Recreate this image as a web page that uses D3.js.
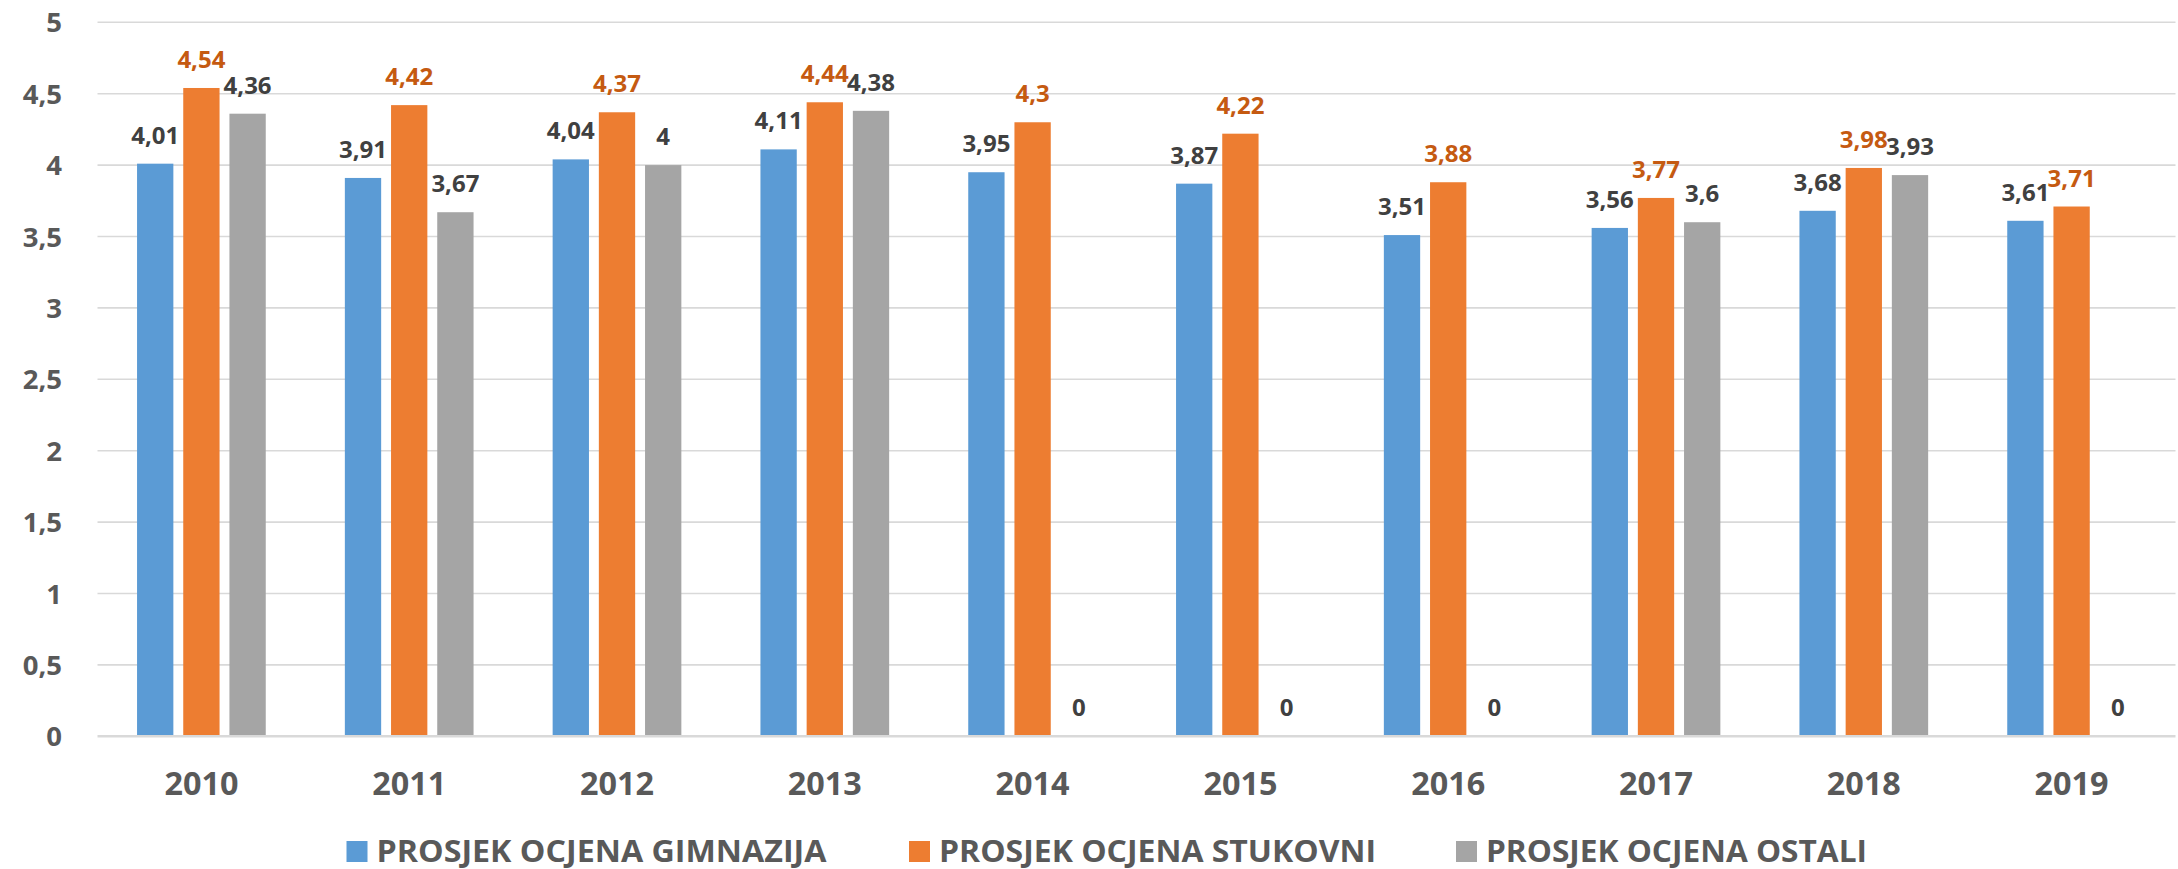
<!DOCTYPE html>
<html>
<head>
<meta charset="utf-8">
<script src="https://cdn.jsdelivr.net/npm/d3@7"></script>
<style>
  html, body { margin: 0; padding: 0; background: #fff; }
  svg { display: block; }
  text { font-family: "Open Sans", Lato, sans-serif; font-weight: 700; }
</style>
</head>
<body>
<svg id="chart" width="2178" height="869"></svg>
<script>
const categories = ["2010","2011","2012","2013","2014","2015","2016","2017","2018","2019"];
const seriesNames = ["PROSJEK OCJENA GIMNAZIJA","PROSJEK OCJENA STUKOVNI","PROSJEK OCJENA OSTALI"];
const gimnazija = [4.01,3.91,4.04,4.11,3.95,3.87,3.51,3.56,3.68,3.61];
const strukovni = [4.54,4.42,4.37,4.44,4.30,4.22,3.88,3.77,3.98,3.71];
const ostali    = [4.36,3.67,4.00,4.38,0,0,0,3.60,3.93,0];
const yTicks = [0,0.5,1,1.5,2,2.5,3,3.5,4,4.5,5];
const colors = ["#5B9BD5","#ED7D31","#A5A5A5"];
const labelColors = ["#404040","#C55A11","#404040"];

const seriesValues = [gimnazija, strukovni, ostali];
const margin = {left: 97.5, right: 2175.5, top: 22.3, bottom: 736.3};

const svg = d3.select("#chart");
const fmt = v => String(+v.toFixed(2)).replace(".", ",");

const x0 = d3.scaleBand().domain(categories).range([margin.left, margin.right]).padding(0);
const x1 = d3.scaleBand().domain(d3.range(3)).range([0, x0.bandwidth()])
  .paddingInner(0.214).paddingOuter(0.856);
const y = d3.scaleLinear().domain([0,5]).range([margin.bottom, margin.top]);

// gridlines
svg.append("g").selectAll("line").data(yTicks.filter(t => t > 0)).join("line")
  .attr("x1", margin.left).attr("x2", margin.right)
  .attr("y1", d => y(d)).attr("y2", d => y(d))
  .attr("stroke", "#D9D9D9").attr("stroke-width", 1.6);

// y tick labels
svg.append("g").selectAll("text").data(yTicks).join("text")
  .attr("x", 62).attr("y", d => y(d) + 10)
  .attr("text-anchor", "end")
  .attr("font-size", 27.5).attr("fill", "#595959")
  .text(d => fmt(d));

// bars
const groups = svg.append("g").selectAll("g").data(categories).join("g")
  .attr("transform", c => `translate(${x0(c)},0)`);

groups.selectAll("rect").data((c, i) => seriesValues.map((s, k) => ({k, v: s[i]}))).join("rect")
  .attr("x", d => x1(d.k)).attr("width", x1.bandwidth())
  .attr("y", d => y(d.v)).attr("height", d => y(0) - y(d.v))
  .attr("fill", d => colors[d.k]);

groups.selectAll("text").data((c, i) => seriesValues.map((s, k) => ({k, v: s[i]}))).join("text")
  .attr("x", d => x1(d.k) + x1.bandwidth() / 2)
  .attr("y", d => y(d.v) - 20)
  .attr("text-anchor", "middle")
  .attr("font-size", 24)
  .attr("fill", d => labelColors[d.k])
  .text(d => fmt(d.v));

// baseline axis
svg.append("line")
  .attr("x1", margin.left).attr("x2", margin.right)
  .attr("y1", y(0) ).attr("y2", y(0))
  .attr("stroke", "#D9D9D9").attr("stroke-width", 2.6);

// x labels
svg.append("g").selectAll("text").data(categories).join("text")
  .attr("x", c => x0(c) + x0.bandwidth() / 2)
  .attr("y", 795)
  .attr("text-anchor", "middle")
  .attr("font-size", 33).attr("fill", "#595959")
  .attr("textLength", 74).attr("lengthAdjust", "spacingAndGlyphs")
  .text(c => c);

// legend
const legendX = [346.5, 909, 1456];
const legendW = [450, 437, 381];
const lg = svg.append("g").selectAll("g").data(seriesNames).join("g")
  .attr("transform", (d, i) => `translate(${legendX[i]},0)`);
lg.append("rect").attr("x", 0).attr("y", 841).attr("width", 21).attr("height", 21)
  .attr("fill", (d, i) => colors[i]);
lg.append("text").attr("x", 30).attr("y", 861.5)
  .attr("font-size", 29.5).attr("fill", "#595959")
  .attr("textLength", (d, i) => legendW[i]).attr("lengthAdjust", "spacingAndGlyphs")
  .text(d => d);
</script>
</body>
</html>
